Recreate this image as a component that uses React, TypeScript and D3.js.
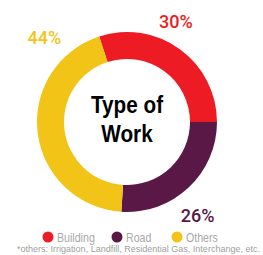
import React from "react";
import * as d3 from "d3";

const categories = ["Building", "Road", "Others"];
const shares = [30, 26, 44];
const colors = ["#ED1C24", "#5A1846", "#F2C418"];
const centerLines = ["Type of", "Work"];
const footnote = "*others: Irrigation, Landfill, Residential Gas, Interchange, etc.";

const W = 263;
const H = 255;
const cx = 127;
const cy = 122;
const outerR = 90;
const innerR = 63;

const App: React.FC = () => {
  const pie = d3
    .pie<number>()
    .sort(null)
    .startAngle(-0.1 * Math.PI)
    .endAngle(1.9 * Math.PI);
  const arcs = pie(shares);
  const arc = d3.arc<d3.PieArcDatum<number>>().innerRadius(innerR).outerRadius(outerR);

  // label placement (angle from top, distance from centre)
  const labelPos = [
    { a: 0.144 * Math.PI, r: 112 },
    { a: 0.794 * Math.PI, r: 117 },
    { a: -0.247 * Math.PI, r: 118 },
  ];

  const legendX = d3.scaleOrdinal<string, number>().domain(categories).range([48, 117, 177]);

  return (
    <svg width={W} height={H} style={{ position: "absolute", left: 0, top: 0 }}>
      <rect width={W} height={H} fill="#fff" />
      <g transform={`translate(${cx},${cy})`}>
        {arcs.map((d, i) => (
          <path key={i} d={arc(d) || ""} fill={colors[i]} />
        ))}
        {arcs.map((d, i) => {
          const p = labelPos[i];
          return (
            <text
              key={"l" + i}
              x={Math.sin(p.a) * p.r}
              y={-Math.cos(p.a) * p.r}
              textAnchor="middle"
              dominantBaseline="central"
              fill={colors[i]}
              fontFamily="Roboto, Liberation Sans, sans-serif"
              fontWeight={500}
              fontSize={18}
            >
              {d.data}%
            </text>
          );
        })}
        {centerLines.map((t, i) => (
          <text
            key={t}
            transform={`translate(0,${-9 + i * 29}) scale(0.9,1)`}
            textAnchor="middle"
            fontFamily="Liberation Sans, Arial, sans-serif"
            fontWeight="bold"
            fontSize={23}
            fill="#000"
          >
            {t}
          </text>
        ))}
      </g>
      {categories.map((c, i) => (
        <g key={c}>
          <circle cx={legendX(c)} cy={237} r={5.5} fill={colors[i]} />
          <text
            transform={`translate(${legendX(c) + 9},241.5) scale(0.85,1)`}
            fontFamily="Liberation Sans, Arial, sans-serif"
            fontSize={12.5}
            fill="#a8a8a8"
          >
            {c}
          </text>
        </g>
      ))}
      <text
        x={17}
        y={252}
        textLength={243}
        lengthAdjust="spacingAndGlyphs"
        fontFamily="Liberation Sans, Arial, sans-serif"
        fontSize={9}
        fill="#a0a0a0"
      >
        {footnote}
      </text>
    </svg>
  );
};

export default App;
